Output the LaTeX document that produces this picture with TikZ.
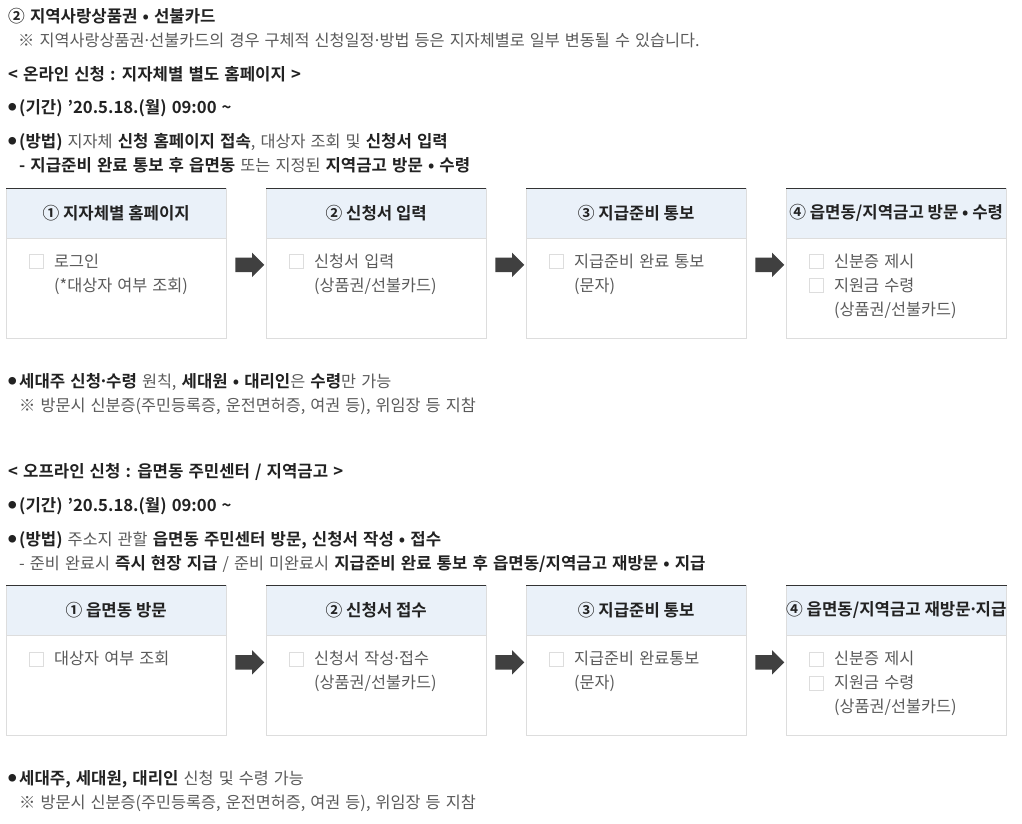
\documentclass[tikz,border=0pt]{standalone}
\usepackage{fontspec}
\setmainfont{Noto Sans CJK KR}[BoldFont={Noto Sans CJK KR Bold},BoldFeatures={Scale=1.025}]
\usetikzlibrary{shapes.arrows,calc}
\definecolor{cDark}{HTML}{222222}
\definecolor{cReg}{HTML}{5A5A5A}
\definecolor{hdrbg}{HTML}{EAF1F9}
\definecolor{bordc}{HTML}{DDDDDD}
\definecolor{topc}{HTML}{333333}
\definecolor{arrc}{HTML}{404040}
\newlength{\wsp}
\setlength{\wsp}{5.1pt}
\newcommand{\fs}{\fontsize{16.3}{19}\selectfont}
\newcommand{\txtfont}{\fs\spaceskip\wsp\relax}
\newcommand{\bt}[1]{{\bfseries\color{cDark}#1}}
\newcommand{\md}{\makebox[0.3em]{·}}
\newcommand{\tld}{\textasciitilde}
\newcommand{\bulletmark}{{\color{cDark}\raisebox{2.6pt}{\fontsize{8.5}{8.5}\selectfont ●}}\hspace{2.5pt}}
\tikzset{
  txt/.style={anchor=base west, inner sep=0pt, font=\txtfont, text=cReg},
  hdr/.style={anchor=north west, inner sep=0pt, minimum width=220pt, minimum height=50pt,
              fill=hdrbg, draw=bordc, font=\fs\bfseries, text=cDark},
  bodybox/.style={anchor=north west, inner sep=0pt, minimum width=220pt, minimum height=100pt,
              fill=white, draw=bordc},
  chk/.style={anchor=north west, inner sep=0pt, minimum width=14pt, minimum height=14pt, draw=bordc, line width=0.8pt},
  blockarrow/.style={single arrow, fill=arrc, inner xsep=0pt, inner ysep=7pt, text width=0pt,
              minimum height=29pt, minimum width=0pt,
              single arrow head extend=5pt, single arrow tip angle=90, font=\fontsize{1}{1}\selectfont},
}
\begin{document}
\begin{tikzpicture}[x=1pt,y=-1pt]
\useasboundingbox[fill=white] (0,0) rectangle (1022,823);

% ---------- top text ----------
\node[txt] (l1) at (8,22) {\bt{② 지역사랑상품권 • 선불카드}};
\node[txt] (l2) at (18,46) {※ 지역사랑상품권\md 선불카드의 경우 구체적 신청일정\md 방법 등은 지자체별로 일부 변동될 수 있습니다.};
\node[txt] (l3) at (8,80) {\bt{< 온라인 신청 : 지자체별 별도 홈페이지 >}};
\node[txt] (l4) at (8,113.5) {\bulletmark\bt{(기간) ’20.5.18.(월) 09:00 \tld}};
\node[txt] (l5) at (8,147.5) {\bulletmark\bt{(방법)} 지자체 \bt{신청 홈페이지 접속}, 대상자 조회 및 \bt{신청서 입력}};
\node[txt] (l6) at (19,171.5) {\bt{- 지급준비 완료 통보 후 읍면동} 또는 지정된 \bt{지역금고 방문 • 수령}};

% ---------- row 1 cards ----------
\foreach \i/\x/\h in {1/6/{① 지자체별 홈페이지},2/266/{② 신청서 입력},3/526/{③ 지급준비 통보},4/786/{④ 읍면동/지역금고 방문 • 수령}}{
  \node[hdr] (h\i) at (\x,188) {\h};
  \node[bodybox] (b\i) at (h\i.south west) {};
  \draw[topc, line width=1pt] (h\i.north west) -- (h\i.north east);
}
\foreach \i/\j in {1/2,2/3,3/4}{
  \node[blockarrow] (a\i) at ($(b\i.north east)!0.5!(b\j.north west)+(0,26.5)$) {};
}
% card 1 body
\node[chk] (c1a) at ($(b1.north west)+(23,16)$) {};
\node[txt] (t1a) at ($(b1.north west)+(48,29)$) {로그인};
\node[txt] (t1b) at ($(b1.north west)+(48,53)$) {(*대상자 여부 조회)};
% card 2 body
\node[chk] (c2a) at ($(b2.north west)+(23,16)$) {};
\node[txt] (t2a) at ($(b2.north west)+(48,29)$) {신청서 입력};
\node[txt] (t2b) at ($(b2.north west)+(48,53)$) {(상품권/선불카드)};
% card 3 body
\node[chk] (c3a) at ($(b3.north west)+(23,16)$) {};
\node[txt] (t3a) at ($(b3.north west)+(48,29)$) {지급준비 완료 통보};
\node[txt] (t3b) at ($(b3.north west)+(48,53)$) {(문자)};
% card 4 body
\node[chk] (c4a) at ($(b4.north west)+(23,16)$) {};
\node[txt] (t4a) at ($(b4.north west)+(48,29)$) {신분증 제시};
\node[chk] (c4b) at ($(b4.north west)+(23,40)$) {};
\node[txt] (t4b) at ($(b4.north west)+(48,53)$) {지원금 수령};
\node[txt] (t4c) at ($(b4.north west)+(48,77)$) {(상품권/선불카드)};

% ---------- middle text ----------
\node[txt] (l7) at (8,387) {\bulletmark\bt{세대주 신청\md 수령} 원칙, \bt{세대원 • 대리인}은 \bt{수령}만 가능};
\node[txt] (l8) at (19,411) {※ 방문시 신분증(주민등록증, 운전면허증, 여권 등), 위임장 등 지참};
\node[txt] (l9) at (8,477) {\bt{< 오프라인 신청 : 읍면동 주민센터 / 지역금고 >}};
\node[txt] (l10) at (8,511.5) {\bulletmark\bt{(기간) ’20.5.18.(월) 09:00 \tld}};
\node[txt] (l11) at (8,545.5) {\bulletmark\bt{(방법)} 주소지 관할 \bt{읍면동 주민센터 방문, 신청서 작성 • 접수}};
\node[txt] (l12) at (19,569) {- 준비 완료시 \bt{즉시 현장 지급} / 준비 미완료시 \bt{지급준비 완료 통보 후 읍면동/지역금고 재방문 • 지급}};

% ---------- row 2 cards ----------
\foreach \i/\x/\h in {5/6/{① 읍면동 방문},6/266/{② 신청서 접수},7/526/{③ 지급준비 통보},8/786/{④ 읍면동/지역금고 재방문\md 지급}}{
  \node[hdr] (h\i) at (\x,585) {\h};
  \node[bodybox] (b\i) at (h\i.south west) {};
  \draw[topc, line width=1pt] (h\i.north west) -- (h\i.north east);
}
\foreach \i/\j in {5/6,6/7,7/8}{
  \node[blockarrow] (a\i) at ($(b\i.north east)!0.5!(b\j.north west)+(0,27)$) {};
}
\node[chk] (c5a) at ($(b5.north west)+(23,17)$) {};
\node[txt] (t5a) at ($(b5.north west)+(48,29)$) {대상자 여부 조회};
\node[chk] (c6a) at ($(b6.north west)+(23,17)$) {};
\node[txt] (t6a) at ($(b6.north west)+(48,29)$) {신청서 작성\md 접수};
\node[txt] (t6b) at ($(b6.north west)+(48,53)$) {(상품권/선불카드)};
\node[chk] (c7a) at ($(b7.north west)+(23,17)$) {};
\node[txt] (t7a) at ($(b7.north west)+(48,29)$) {지급준비 완료통보};
\node[txt] (t7b) at ($(b7.north west)+(48,53)$) {(문자)};
\node[chk] (c8a) at ($(b8.north west)+(23,17)$) {};
\node[txt] (t8a) at ($(b8.north west)+(48,29)$) {신분증 제시};
\node[chk] (c8b) at ($(b8.north west)+(23,41)$) {};
\node[txt] (t8b) at ($(b8.north west)+(48,53)$) {지원금 수령};
\node[txt] (t8c) at ($(b8.north west)+(48,77)$) {(상품권/선불카드)};

% ---------- bottom text ----------
\node[txt] (l13) at (8,784) {\bulletmark\bt{세대주, 세대원, 대리인} 신청 및 수령 가능};
\node[txt] (l14) at (19,808) {※ 방문시 신분증(주민등록증, 운전면허증, 여권 등), 위임장 등 지참};
\end{tikzpicture}
\end{document}
